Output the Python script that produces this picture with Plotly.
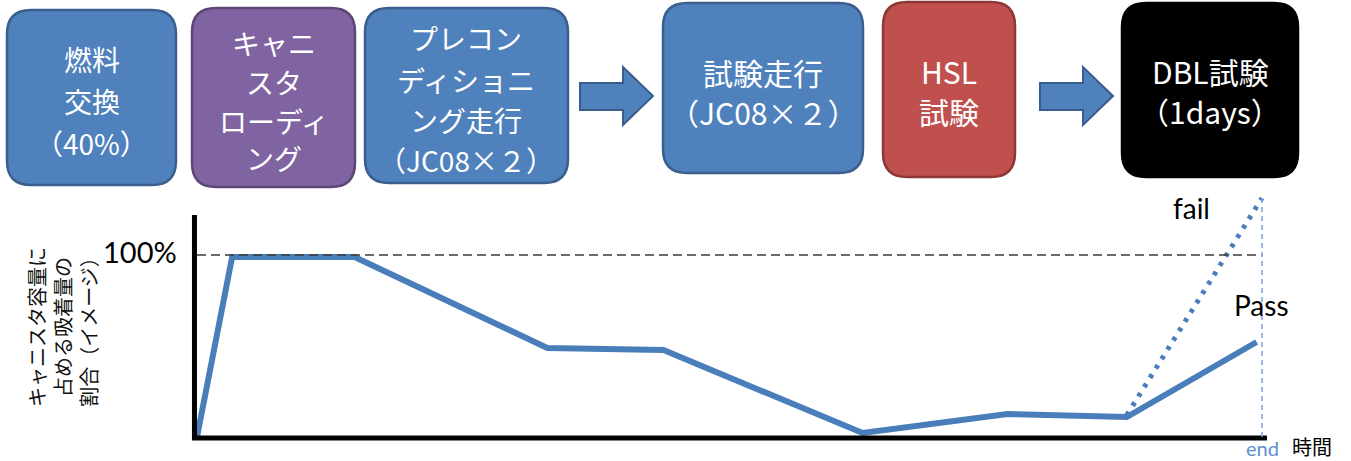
"""
canister_chart.py — キャニスタ吸着量のイメージ図 (工程フロー + 推移)
"""

import plotly.graph_objects as go

W, H = 1351, 461

# 工程ボックスの文字
box_labels = [
    ["燃料", "交換", "（40%）"],
    ["キャニ", "スタ", "ローディ", "ング"],
    ["プレコン", "ディショニ", "ング走行", "（JC08×２）"],
    ["試験走行", "（JC08×２）"],
    ["HSL", "試験"],
    ["DBL試験", "（1days）"],
]

# 吸着量の推移 (時間は end = 100 とした相対値, 割合は %)
time = [0, 3.3, 14.8, 32.9, 43.8, 62.5, 76.1, 87.3, 99.5]
ratio = [0, 98.9, 98.9, 48.9, 47.8, 2.2, 12.6, 11.0, 52.2]
fail_time = [87.3, 100]
fail_ratio = [12.0, 131.3]
full_ratio = 100
end_time = 100

y_title = "キャニスタ容量に<br>占める吸着量の<br>割合（イメージ）"


def px(x):
    return x / W


def py(y):
    return 1 - y / H


def rounded_rect(x0, y0, x1, y1, r):
    pts = [
        ("M", [(x0 + r, y0)]), ("L", [(x1 - r, y0)]), ("Q", [(x1, y0), (x1, y0 + r)]),
        ("L", [(x1, y1 - r)]), ("Q", [(x1, y1), (x1 - r, y1)]),
        ("L", [(x0 + r, y1)]), ("Q", [(x0, y1), (x0, y1 - r)]),
        ("L", [(x0, y0 + r)]), ("Q", [(x0, y0), (x0 + r, y0)]),
    ]
    s = ""
    for cmd, ps in pts:
        s += cmd + " ".join(f"{px(a):.5f},{py(b):.5f}" for a, b in ps) + " "
    return s + "Z"


def block_arrow(xs, xb, xt, s0, s1, h0, h1):
    ym = (h0 + h1) / 2
    ps = [(xs, s0), (xb, s0), (xb, h0), (xt, ym), (xb, h1), (xb, s1), (xs, s1)]
    return "M" + " L".join(f"{px(a):.5f},{py(b):.5f}" for a, b in ps) + " Z"


# ボックスの配置 (px): x0, y0, x1, y1, 塗り, 枠, 文字サイズ, 各行の中心 y
box_style = [
    (7, 10, 176, 185, "#4F81BD", "#3A5F8E", 28, [59, 101, 143]),
    (192, 8, 355, 187, "#8064A2", "#5C4776", 28, [43, 82, 121, 158]),
    (365, 8, 568, 183, "#4F81BD", "#3A5F8E", 28, [38, 80, 120, 160]),
    (663, 3, 863, 173, "#4F81BD", "#3A5F8E", 30, [72, 112]),
    (883, 2, 1015, 177, "#C0504D", "#8C3836", 30, [71, 111]),
    (1122, 3, 1298, 177, "#000000", "#000000", 30, [71, 111]),
]

fig = go.Figure()

fig.add_trace(go.Scatter(
    x=time, y=ratio, mode="lines",
    line=dict(color="#4A7EBB", width=6),
    hoverinfo="skip",
))
fig.add_trace(go.Scatter(
    x=fail_time, y=fail_ratio, mode="lines",
    line=dict(color="#4A7EBB", width=5, dash="4px,7px"),
    hoverinfo="skip",
))

shapes = []
annotations = []

for (x0, y0, x1, y1, fill, edge, fs, rows), lines in zip(box_style, box_labels):
    shapes.append(dict(
        type="path", xref="paper", yref="paper",
        path=rounded_rect(x0, y0, x1, y1, 24),
        fillcolor=fill, line=dict(color=edge, width=2.5), layer="below",
    ))
    for text, yc in zip(lines, rows):
        annotations.append(dict(
            xref="paper", yref="paper", x=px((x0 + x1) / 2), y=py(yc),
            text=text, showarrow=False, xanchor="center", yanchor="middle",
            font=dict(family="Noto Sans CJK JP", size=fs, color="white"),
        ))

for xs, xb, xt in [(580, 623, 653), (1040, 1083, 1113)]:
    shapes.append(dict(
        type="path", xref="paper", yref="paper",
        path=block_arrow(xs, xb, xt, 83, 110, 67, 125),
        fillcolor="#4F81BD", line=dict(color="#385D8A", width=2), layer="below",
    ))

# 軸線
shapes.append(dict(type="line", xref="x domain", yref="y domain",
                   x0=0.0023, x1=0.0023, y0=0, y1=0.9,
                   line=dict(color="black", width=5)))
shapes.append(dict(type="line", xref="x domain", yref="y domain",
                   x0=0, x1=1, y0=0.008, y1=0.008,
                   line=dict(color="black", width=5)))
# 100% ライン
shapes.append(dict(type="line", xref="x", yref="y",
                   x0=0, x1=end_time, y0=full_ratio, y1=full_ratio,
                   line=dict(color="#3A3A3A", width=1.5, dash="9px,5px")))
# end ライン
shapes.append(dict(type="line", xref="x", yref="y",
                   x0=end_time, x1=end_time, y0=0, y1=fail_ratio[-1],
                   line=dict(color="#7CA3D8", width=1.5, dash="5px,4px")))

latin = "Lato"
annotations += [
    dict(xref="paper", yref="y", x=px(179), y=full_ratio, yshift=3,
         text="100%", showarrow=False, xanchor="right", yanchor="middle",
         font=dict(family=latin, size=29, color="black")),
    dict(xref="paper", yref="paper", x=px(1191), y=py(208),
         text="fail", showarrow=False, xanchor="center", yanchor="middle",
         font=dict(family=latin, size=28, color="black")),
    dict(xref="paper", yref="paper", x=px(1261), y=py(305),
         text="Pass", showarrow=False, xanchor="center", yanchor="middle",
         font=dict(family=latin, size=28, color="black")),
    dict(xref="paper", yref="paper", x=px(1262), y=py(448),
         text="end", showarrow=False, xanchor="center", yanchor="middle",
         font=dict(family=latin, size=20, color="#5B8FCF")),
    dict(xref="paper", yref="paper", x=px(1312), y=py(446),
         text="時間", showarrow=False, xanchor="center", yanchor="middle",
         font=dict(family="Noto Sans CJK JP", size=20, color="black")),
    dict(xref="paper", yref="paper", x=px(62), y=py(327),
         text=y_title, showarrow=False, textangle=-90, align="center",
         xanchor="center", yanchor="middle",
         font=dict(family="Noto Sans CJK JP", size=20, color="#111111")),
]

hidden = dict(showgrid=False, zeroline=False, showticklabels=False,
              showline=False, ticks="", fixedrange=True)

fig.update_layout(
    width=W, height=H,
    margin=dict(l=0, r=0, t=0, b=0),
    paper_bgcolor="white", plot_bgcolor="white",
    showlegend=False,
    xaxis=dict(domain=[px(192), px(1267)], range=[-0.469, 100.47], **hidden),
    yaxis=dict(domain=[py(440), py(190)], range=[-1.648, 135.71], **hidden),
    shapes=shapes,
    annotations=annotations,
)

# ブラウザ既定の body 余白 (8px) を消す
fig.write_html(
    "out.html",
    config={"displayModeBar": False},
    post_script="document.body.style.margin='0';",
)
